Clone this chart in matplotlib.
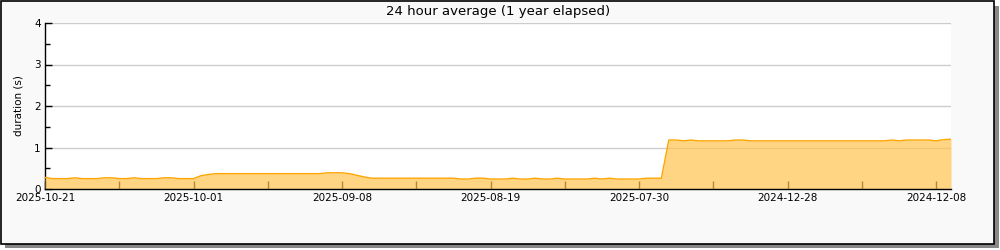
import matplotlib
matplotlib.use("Agg")
import matplotlib.pyplot as plt
from matplotlib.patches import Rectangle
import numpy as np

title = "24 hour average (1 year elapsed)"
ylabel = "duration (s)"
tick_labels = ["2025-10-21", "2025-10-01", "2025-09-08", "2025-08-19",
               "2025-07-30", "2024-12-28", "2024-12-08"]
tick_step = 20

values = [
    0.28, 0.25, 0.25, 0.25, 0.27, 0.25, 0.25, 0.25, 0.27, 0.27,
    0.25, 0.25, 0.27, 0.25, 0.25, 0.25, 0.27, 0.27, 0.25, 0.25,
    0.25, 0.32, 0.35, 0.37, 0.37, 0.37, 0.37, 0.37, 0.37, 0.37,
    0.37, 0.37, 0.37, 0.37, 0.37, 0.37, 0.37, 0.37, 0.39, 0.39,
    0.39, 0.37, 0.33, 0.29, 0.26, 0.26, 0.26, 0.26, 0.26, 0.26,
    0.26, 0.26, 0.26, 0.26, 0.26, 0.26, 0.24, 0.24, 0.26, 0.26,
    0.24, 0.24, 0.24, 0.26, 0.24, 0.24, 0.26, 0.24, 0.24, 0.26,
    0.24, 0.24, 0.24, 0.24, 0.26, 0.24, 0.26, 0.24, 0.24, 0.24,
    0.24, 0.26, 0.26, 0.26, 1.18, 1.18, 1.16, 1.18, 1.16, 1.16,
    1.16, 1.16, 1.16, 1.18, 1.18, 1.16, 1.16, 1.16, 1.16, 1.16,
    1.16, 1.16, 1.16, 1.16, 1.16, 1.16, 1.16, 1.16, 1.16, 1.16,
    1.16, 1.16, 1.16, 1.16, 1.18, 1.16, 1.18, 1.18, 1.18, 1.18,
    1.16, 1.19, 1.20,
]

x = np.arange(len(values))

fig = plt.figure(figsize=(10, 2.5), dpi=100)
fig.patch.set_facecolor("white")

# shadow and frame
fig.patches.append(Rectangle((5 / 1000, 2 / 250), 994 / 1000, 242 / 250,
                             transform=fig.transFigure, facecolor="#888888",
                             edgecolor="none", zorder=-3))
fig.patches.append(Rectangle((1 / 1000, 6 / 250), 993 / 1000, 243 / 250,
                             transform=fig.transFigure, facecolor="#f9f9f9",
                             edgecolor="black", linewidth=1.2, zorder=-2))

ax = fig.add_axes([45 / 1000, (250 - 189) / 250, (951 - 45) / 1000, (189 - 23) / 250])
ax.set_facecolor("white")

ax.fill_between(x, values, 0, color="#ffc34d", alpha=0.7, linewidth=0, zorder=3)
ax.plot(x, values, color="#ffa500", linewidth=1.0, zorder=4)

ax.set_xlim(0, len(values) - 1)
ax.set_ylim(0, 4)
ax.set_yticks([0, 1, 2, 3, 4])
ax.set_yticks([0.5, 1.5, 2.5, 3.5], minor=True)
ax.set_xticks(np.arange(0, len(values), tick_step))
ax.set_xticklabels(tick_labels)
ax.set_xticks(np.arange(tick_step // 2, len(values), tick_step), minor=True)
ax.grid(axis="y", which="major", color="#cccccc", linewidth=1.0, zorder=1)
ax.set_axisbelow(True)

for s in ["top", "right"]:
    ax.spines[s].set_visible(False)
ax.spines["left"].set_linewidth(1.0)
ax.spines["bottom"].set_linewidth(1.0)
ax.spines["bottom"].set_zorder(5)

ax.tick_params(axis="both", which="both", width=1, labelsize=7.5,
               direction="in", pad=3)
ax.tick_params(axis="y", which="major", length=5)
ax.tick_params(axis="y", which="minor", length=3.5)
ax.tick_params(axis="x", which="both", length=5.5)

ax.set_ylabel(ylabel, fontsize=7.5, labelpad=8)
fig.text(0.498, 1 - 11 / 250, title, ha="center", va="center", fontsize=9.5)

fig.savefig("out.png", dpi=100, facecolor=fig.get_facecolor())
